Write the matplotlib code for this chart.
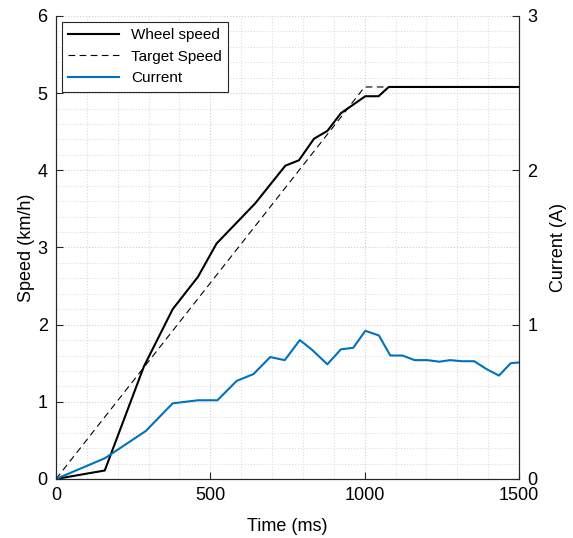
import numpy as np
import matplotlib.pyplot as plt
from matplotlib.ticker import MultipleLocator

plt.rcParams['font.family'] = ['Liberation Sans', 'DejaVu Sans']

# wheel speed (km/h)
wheel_t = [0, 158, 285, 378, 460, 520, 645, 743, 787, 836, 879, 923, 1002, 1045, 1078, 1500]
wheel_v = [0, 0.11, 1.46, 2.20, 2.62, 3.05, 3.57, 4.06, 4.13, 4.41, 4.51, 4.74, 4.96, 4.96, 5.08, 5.08]

# target speed (km/h)
target_t = [0, 1000, 1500]
target_v = [0, 5.08, 5.08]

# motor current (A)
cur_t = [0, 158, 291, 378, 460, 523, 585, 640, 694, 741, 790, 830, 879, 923, 963, 1002,
         1046, 1083, 1122, 1162, 1203, 1242, 1277, 1315, 1355, 1394, 1435, 1473, 1500]
cur_a = [0, 0.134, 0.311, 0.49, 0.51, 0.51, 0.635, 0.68, 0.79, 0.77, 0.90, 0.836, 0.743, 0.84,
         0.85, 0.96, 0.93, 0.80, 0.80, 0.77, 0.77, 0.76, 0.77, 0.763, 0.763, 0.713, 0.67, 0.75, 0.755]

fig = plt.figure(figsize=(5.73, 5.38), dpi=100)
ax = fig.add_axes([0.0977, 0.1097, 0.8081, 0.8606])
ax2 = ax.twinx()

ax.plot(wheel_t, wheel_v, color='black', lw=1.5, label='Wheel speed', zorder=3)
ax.plot(target_t, target_v, color='black', lw=0.8, ls=(0, (6, 4)), label='Target Speed', zorder=2)
ax2.plot(cur_t, cur_a, color='#0072BD', lw=1.5, label='Current')

ax.set_xlim(0, 1500)
ax.set_ylim(0, 6)
ax2.set_ylim(0, 3)
ax.xaxis.set_major_locator(MultipleLocator(500))
ax.xaxis.set_minor_locator(MultipleLocator(100))
ax.yaxis.set_major_locator(MultipleLocator(1))
ax.yaxis.set_minor_locator(MultipleLocator(0.2))
ax2.yaxis.set_major_locator(MultipleLocator(1))
ax2.yaxis.set_minor_locator(MultipleLocator(0.1))

ax.grid(which='major', color='#d0d0d0', ls=':', lw=0.8)
ax.grid(which='minor', color='#dcdcdc', ls=':', lw=0.8)
ax.set_axisbelow(True)

for a in (ax, ax2):
    a.spines['top'].set_visible(False)
    for s in a.spines.values():
        s.set_color('#262626')
        s.set_linewidth(0.8)
ax.tick_params(which='both', direction='in', labelsize=13, colors='#262626', labelcolor='black')
ax.tick_params(which='major', length=5, pad=6)
ax.tick_params(which='minor', length=0)
ax2.tick_params(which='both', direction='in', labelsize=13, colors='#262626', labelcolor='black')
ax2.tick_params(which='major', length=5, pad=6)
ax2.tick_params(which='minor', length=0)

ax.set_xlabel('Time (ms)', fontsize=13, labelpad=10)
ax.set_ylabel('Speed (km/h)', fontsize=13, labelpad=2)
ax2.set_ylabel('Current (A)', fontsize=13, labelpad=9)

h1, l1 = ax.get_legend_handles_labels()
h2, l2 = ax2.get_legend_handles_labels()
leg = ax2.legend(h1 + h2, l1 + l2, loc='upper left', fontsize=11, fancybox=False,
                 framealpha=1, edgecolor='#262626', borderaxespad=0.4, handlelength=3.3)
leg.get_frame().set_linewidth(0.8)

fig.savefig('out.png', dpi=100)
